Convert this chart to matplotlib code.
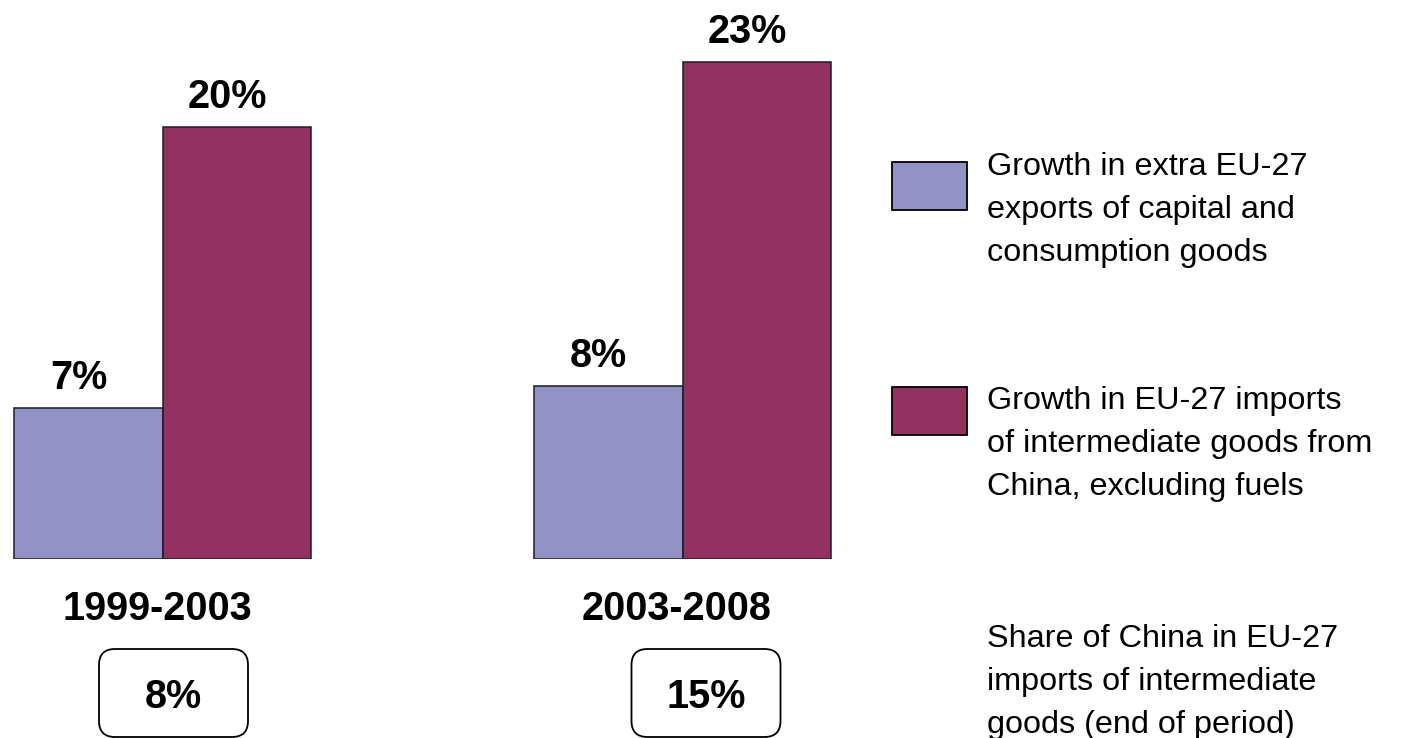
import matplotlib
matplotlib.use("Agg")
import matplotlib.pyplot as plt
from matplotlib.patches import FancyBboxPatch, Rectangle

plt.rcParams["font.family"] = ["Liberation Sans", "DejaVu Sans"]

periods = ["1999-2003", "2003-2008"]
exports_growth = [7, 8]      # extra EU-27 exports of capital and consumption goods
imports_growth = [20, 23]    # EU-27 imports of intermediate goods from China
china_share = [8, 15]        # share of China at end of period

series_labels = [
    "Growth in extra EU-27\nexports of capital and\nconsumption goods",
    "Growth in EU-27 imports\nof intermediate goods from\nChina, excluding fuels",
]
share_label = "Share of China in EU-27\nimports of intermediate\ngoods (end of period)"

blue = "#9292C6"
wine = "#933160"
edge = "#1c1c28"

W, H = 1419, 738
fig = plt.figure(figsize=(W / 100, H / 100), dpi=100)

# bar panel: one bar = 148.5 px wide, 21.6 px per percentage point
unit, ppp, base = 148.5, 21.6, 559
ax = fig.add_axes([0, (H - base) / H, 860 / W, base / H])
ax.set_xlim(-88.5 / unit, (860 - 88.5) / unit)
ax.set_ylim(0, base / ppp)
ax.axis("off")

group_x = [i * 3.5 for i in range(len(periods))]
blue_x = group_x
wine_x = [g + 1 for g in group_x]
ax.bar(blue_x, exports_growth, width=1, color=blue, edgecolor=edge, lw=1.1)
ax.bar(wine_x, imports_growth, width=1, color=wine, edgecolor=edge, lw=1.1)

for xs, vals in [(blue_x, exports_growth), (wine_x, imports_growth)]:
    for x, v in zip(xs, vals):
        ax.annotate(f"{v}%", xy=(x, v), xytext=(-7, 13.7), textcoords="offset points",
                    ha="center", va="baseline", fontsize=28.5, fontweight="bold")

for g, p in zip(group_x, periods):
    ax.annotate(p, xy=(g + 0.5, 0), xytext=(-4, -44), textcoords="offset points",
                ha="center", va="baseline", fontsize=28.5, fontweight="bold",
                annotation_clip=False)

# overlay in pixel coordinates for the boxes and the key
ov = fig.add_axes([0, 0, 1, 1])
ov.set_xlim(0, W)
ov.set_ylim(H, 0)
ov.axis("off")

box_cx = [173.5, 706]
for cx, s in zip(box_cx, china_share):
    ov.add_patch(FancyBboxPatch((cx - 74.5, 649), 149, 88,
                                boxstyle="round,pad=0,rounding_size=16",
                                fc="white", ec="black", lw=1.3))
    ov.text(cx, 707.5, f"{s}%", ha="center", va="baseline",
            fontsize=28.5, fontweight="bold")

# y values are the baseline of each block's last line
for top, col, lab, last_y in [(162, blue, series_labels[0], 261),
                              (387, wine, series_labels[1], 495)]:
    ov.add_patch(Rectangle((892, top), 75, 48, fc=col, ec="black", lw=1.3))
    ov.text(987, last_y, lab, ha="left", va="baseline", fontsize=23.3, linespacing=1.56)

ov.text(987, 733, share_label, ha="left", va="baseline", fontsize=23.3, linespacing=1.56)

fig.savefig("out.png", dpi=100)
